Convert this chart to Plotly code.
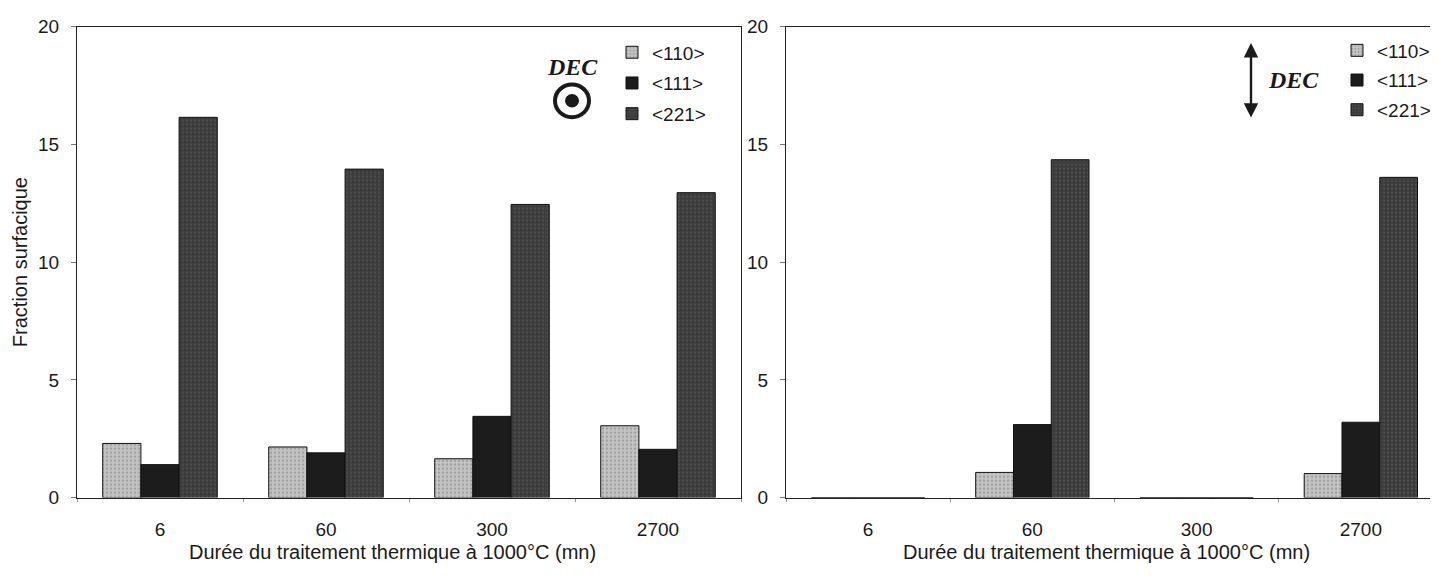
import plotly.graph_objects as go

# The page body has an 8px margin: the figure is sized to fill the rest of the window.
OFF = 8
W, H = 1438 - OFF, 576 - OFF

categories = ["6", "60", "300", "2700"]
series_names = ["<110>", "<111>", "<221>"]

left_110 = [2.3, 2.15, 1.65, 3.05]
left_111 = [1.4, 1.9, 3.45, 2.05]
left_221 = [16.15, 13.95, 12.45, 12.95]

right_110 = [0, 1.07, 0, 1.02]
right_111 = [0, 3.1, 0, 3.2]
right_221 = [0, 14.35, 0, 13.6]

y_ticks = [0, 5, 10, 15, 20]
x_title = "Durée du traitement thermique à 1000°C (mn)"
y_title = "Fraction surfacique"

FONT = "Arial, Liberation Sans, sans-serif"
SERIF = "Liberation Serif, Times New Roman, serif"
TXT = "#1a1a1a"

styles = {
    "<110>": dict(color="#c4c4c4", pattern=dict(shape=".", fgcolor="#7d7d7d", bgcolor="#c4c4c4", size=4, solidity=0.3)),
    "<111>": dict(color="#1c1c1c"),
    "<221>": dict(color="#3b3b3b", pattern=dict(shape=".", fgcolor="#5c5c5c", bgcolor="#3b3b3b", size=4, solidity=0.3)),
}

fig = go.Figure()

left_vals = [left_110, left_111, left_221]
right_vals = [right_110, right_111, right_221]

for name, vals in zip(series_names, left_vals):
    fig.add_trace(go.Bar(
        x=categories, y=vals, name=name, xaxis="x", yaxis="y",
        marker=dict(**styles[name], line=dict(color="#111111", width=1)),
        legend="legend", legendgroup="L" + name,
    ))
for name, vals in zip(series_names, right_vals):
    fig.add_trace(go.Bar(
        x=categories, y=vals, name=name, xaxis="x2", yaxis="y2",
        marker=dict(**styles[name], line=dict(color="#111111", width=1)),
        legend="legend2", legendgroup="R" + name,
    ))

def px(x):
    return (x - OFF) / W

def py(y):
    return 1 - (y - OFF) / H

L0, L1 = 77, 741
R0, R1 = 786, 1438
T, B = 17, 506

axis_common = dict(
    showline=True, linecolor="#222222", linewidth=1.3,
    showgrid=False, zeroline=False,
    tickfont=dict(family=FONT, size=19, color=TXT),
    ticklabeloverflow="allow",
)

fig.update_layout(
    width=W, height=H,
    margin=dict(l=0, r=0, t=0, b=0),
    plot_bgcolor="white", paper_bgcolor="white",
    barmode="group", bargap=0.31, bargroupgap=0,
    font=dict(family=FONT, color=TXT),
    xaxis=dict(
        domain=[px(L0), px(L1)], anchor="y", type="category",
        categoryorder="array", categoryarray=categories,
        range=[-0.5, 3.5], mirror=True,
        ticks="outside", tickson="boundaries", ticklen=3, tickcolor="#999999",
        ticklabelstandoff=14,
        **axis_common,
    ),
    yaxis=dict(
        domain=[py(B), py(T)], anchor="x", range=[0, 20], tickvals=y_ticks,
        mirror=True, ticks="outside", ticklen=5, tickcolor="#777777",
        ticklabelstandoff=8,
        **axis_common,
    ),
    xaxis2=dict(
        domain=[px(R0), min(1.0, px(R1))], anchor="y2", type="category",
        categoryorder="array", categoryarray=categories,
        range=[-0.5, 3.5 - 5 / 165], mirror=True,
        ticks="outside", tickson="boundaries", ticklen=3, tickcolor="#999999",
        ticklabelstandoff=14,
        **axis_common,
    ),
    yaxis2=dict(
        domain=[py(B), py(T)], anchor="x2", range=[0, 20], tickvals=y_ticks,
        mirror=False, ticks="outside", ticklen=5, tickcolor="#777777",
        ticklabelstandoff=8,
        **axis_common,
    ),
    legend=dict(
        x=px(612), y=py(24), xanchor="left", yanchor="top",
        bgcolor="rgba(0,0,0,0)", font=dict(family=FONT, size=19, color=TXT),
        tracegroupgap=3, itemwidth=30,
    ),
    legend2=dict(
        x=px(1337), y=py(22), xanchor="left", yanchor="top",
        bgcolor="rgba(0,0,0,0)", font=dict(family=FONT, size=19, color=TXT),
        tracegroupgap=2, itemwidth=30,
    ),
    showlegend=True,
)

def note(text, x, y, size, family=FONT, **kw):
    return dict(text=text, x=px(x), y=py(y), xref="paper", yref="paper",
                xanchor="center", yanchor="middle", showarrow=False,
                font=dict(family=family, size=size, color=TXT), **kw)

annotations = [
    note(y_title, 20, (T + B) / 2, 20, textangle=-90),
    note(x_title, 392, 562, 20),
    note(x_title, 1106, 562, 20),
    note("<b><i>DEC</i></b>", 572, 59, 24, family=SERIF),
    note("<b><i>DEC</i></b>", 1293, 72, 24, family=SERIF),
    dict(text="", x=px(1251), y=py(34), xref="paper", yref="paper",
         ax=0, ay=76, axref="pixel", ayref="pixel", showarrow=True,
         arrowhead=2, arrowside="end+start", arrowwidth=2.4, arrowsize=1.2, arrowcolor=TXT),
]
fig.update_layout(annotations=annotations)

cx, cy = 572, 94
r_out, r_dot = 17, 7
shapes = [
    dict(type="circle", xref="paper", yref="paper",
         x0=px(cx - r_out), x1=px(cx + r_out), y0=py(cy + r_out), y1=py(cy - r_out),
         line=dict(color=TXT, width=4), fillcolor="rgba(0,0,0,0)"),
    dict(type="circle", xref="paper", yref="paper",
         x0=px(cx - r_dot), x1=px(cx + r_dot), y0=py(cy + r_dot), y1=py(cy - r_dot),
         line=dict(color=TXT, width=0), fillcolor=TXT),
]
fig.update_layout(shapes=shapes)

fig.write_html("out.html", config={"displayModeBar": False})
